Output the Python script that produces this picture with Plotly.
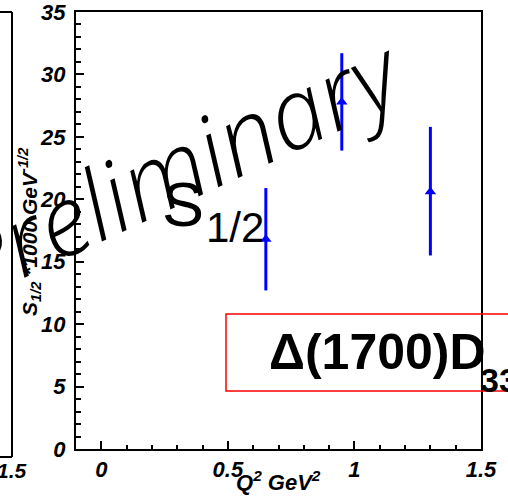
import plotly.graph_objects as go

# ---- data ----
q2 = [0.65, 0.95, 1.30]
s12 = [16.8, 27.8, 20.6]
err_plus = [4.1, 3.9, 5.2]
err_minus = [4.1, 3.9, 5.1]

x_ticks = [0, 0.5, 1, 1.5]
x_tick_text = ["0", "0.5", "1", "1.5"]
y_ticks = [0, 5, 10, 15, 20, 25, 30, 35]
y_tick_text = ["0", "5", "10", "15", "20", "25", "30", "35"]

W, H = 508, 501
L, R, T, B = 76, 481, 12, 449  # plot area in pixels


def X(px):
    return (px - L) / (R - L)


def Y(py):
    return (B - py) / (B - T)


bfont = dict(family="Liberation Sans, Arial", size=22, color="black", weight="bold", style="italic")

fig = go.Figure()
fig.add_trace(go.Scatter(
    x=q2, y=s12, mode="markers",
    marker=dict(symbol="triangle-up", size=10, color="#0000ff"),
    error_y=dict(type="data", symmetric=False, array=err_plus, arrayminus=err_minus,
                 color="#0000ff", thickness=3, width=0),
    showlegend=False,
))

fig.update_layout(
    width=W, height=H,
    margin=dict(l=L, r=W - R, t=T, b=H - B, autoexpand=False),
    paper_bgcolor="white", plot_bgcolor="white",
    xaxis=dict(range=[-0.1, 1.5], tickvals=x_ticks, ticktext=x_tick_text, automargin=False,
               ticks="inside", ticklen=8, tickwidth=2, tickcolor="black",
               minor=dict(dtick=0.1, tick0=0, ticks="inside", ticklen=4, tickwidth=2, tickcolor="black"),
               showline=True, linewidth=2, linecolor="black", mirror=True,
               showgrid=False, zeroline=False, tickfont=bfont, ticklabelstandoff=0,
               ticklabeloverflow="allow"),
    yaxis=dict(range=[0, 35], tickvals=y_ticks, ticktext=y_tick_text, automargin=False,
               ticks="inside", ticklen=8, tickwidth=2, tickcolor="black",
               minor=dict(dtick=1, tick0=0, ticks="inside", ticklen=5, tickwidth=2, tickcolor="black"),
               showline=True, linewidth=2, linecolor="black", mirror=True,
               showgrid=False, zeroline=False, tickfont=bfont, ticklabelstandoff=4,
               ticklabeloverflow="allow"),
)

# remnant of the neighbouring panel on the left
fig.add_shape(type="line", xref="paper", yref="paper", x0=X(12), x1=X(12), y0=Y(12), y1=Y(457),
              line=dict(color="black", width=2))
fig.add_shape(type="line", xref="paper", yref="paper", x0=X(-5), x1=X(12), y0=Y(12), y1=Y(12),
              line=dict(color="black", width=2))
fig.add_shape(type="line", xref="paper", yref="paper", x0=X(-5), x1=X(12), y0=Y(457), y1=Y(457),
              line=dict(color="black", width=2))
fig.add_annotation(xref="paper", yref="paper", x=X(12), y=Y(470), text="1.5", showarrow=False,
                   xanchor="center", yanchor="middle", font=dict(bfont, size=21))

# axis titles
fig.add_annotation(xref="paper", yref="paper", x=X(278), y=Y(481),
                   text="Q<sup>2</sup> GeV<sup>2</sup>", showarrow=False,
                   xanchor="center", yanchor="middle", font=dict(bfont, size=22))
fig.add_annotation(xref="paper", yref="paper", x=X(30), y=Y(232),
                   text="S<sub>1/2</sub> *1000 GeV<sup>-1/2</sup>", showarrow=False, textangle=-90,
                   xanchor="center", yanchor="middle", font=dict(bfont, size=21))

# Preliminary watermark
fig.add_annotation(xref="paper", yref="paper", x=X(176), y=Y(165), text="Preliminary",
                   showarrow=False, textangle=-25, xanchor="center", yanchor="middle",
                   font=dict(family="Open Sans", size=98, color="black", style="italic", weight=300))

# S_1/2 label
fig.add_annotation(xref="paper", yref="paper", x=X(160), y=Y(204), text="S", showarrow=False,
                   xanchor="left", yanchor="middle",
                   font=dict(family="Liberation Sans, Arial", size=63, color="black"))
fig.add_annotation(xref="paper", yref="paper", x=X(204), y=Y(228), text="1/2", showarrow=False,
                   xanchor="left", yanchor="middle",
                   font=dict(family="Liberation Sans, Arial", size=42, color="black"))

# red box with resonance name
fig.add_shape(type="rect", xref="paper", yref="paper", x0=X(226), x1=X(560), y0=Y(391), y1=Y(314),
              line=dict(color="red", width=1.5), fillcolor="rgba(0,0,0,0)")
fig.add_annotation(xref="paper", yref="paper", x=X(267), y=Y(352), text="Δ(1700)D", showarrow=False,
                   xanchor="left", yanchor="middle",
                   font=dict(family="Liberation Sans, Arial", size=50, color="black", weight="bold"))
fig.add_annotation(xref="paper", yref="paper", x=X(478), y=Y(380), text="33", showarrow=False,
                   xanchor="left", yanchor="middle",
                   font=dict(family="Liberation Sans, Arial", size=34, color="black", weight="bold"))

fig.write_html("out.html")
